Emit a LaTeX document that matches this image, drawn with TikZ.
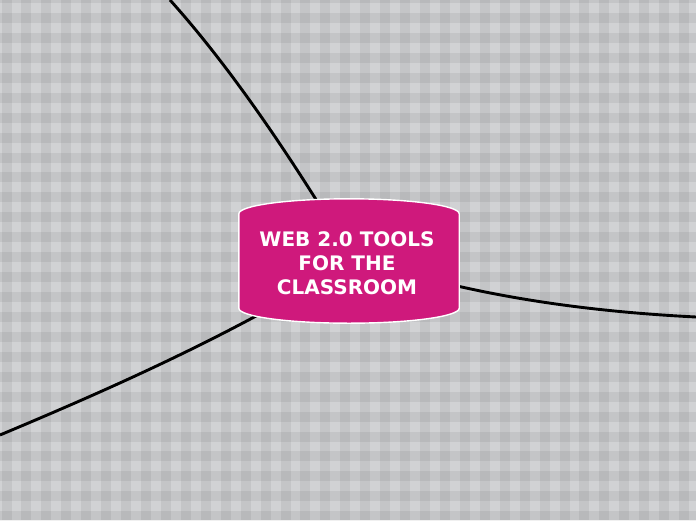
\documentclass[tikz,border=0pt]{standalone}
\usepackage{fontspec}
\usepackage{pgf}
\usetikzlibrary{math}
\newfontfamily\titlefont{DejaVu Sans}
\definecolor{bgbase}{RGB}{209,210,212}
\definecolor{rootpink}{RGB}{207,25,124}
\tikzset{
  band/.style={fill=black, fill opacity=0.06},
  branch/.style={draw=black, line width=2.9pt},
  rootbox/.style={inner sep=0pt, minimum width=220pt, minimum height=94pt},
  rootshape/.style={fill=rootpink, draw=white, line width=1.4pt},
  titletext/.style={text=white, align=center, inner sep=0pt, font=\titlefont\bfseries\fontsize{20}{24}\selectfont}
}

\begin{document}
\begin{tikzpicture}[x=1pt, y=-1pt]
      \tikzmath{\p = 19.93; \w = 10;}
      \fill[bgbase] (0,0) rectangle (696,520);
      \useasboundingbox (0,0) rectangle (696,520);
      \foreach \i in {0,...,35} \fill[band] ({1.5+\p*\i},0) rectangle +(\w,520);
      \foreach \j in {0,...,26} \fill[band] (0,{-6.9+\p*\j}) rectangle +(696,\w);
      \node[rootbox] (root) at (349,261) {};
      \coordinate (topend) at (170,0);
      \coordinate (rightend) at (696,317);
      \coordinate (leftend) at (0,435);
      \draw[branch] (root.117) .. controls (269.6,124.7) and (217.9,53.3) .. (topend);
      \draw[branch] (root.-13) .. controls (531.3,302.7) and (610,312.7) .. (rightend);
      \draw[branch] (root.211) .. controls (176,360) and (80,401.4) .. (leftend);
      \path[rootshape] (root.north west) .. controls +(0,-8.3) and +(-60.75,0) .. ([yshift=15pt]root.north)
            .. controls +(60.75,0) and +(0,-8.3) .. (root.north east) -- (root.south east)
            .. controls +(0,8.3) and +(60.75,0) .. ([yshift=-15pt]root.south)
            .. controls +(-60.75,0) and +(0,8.3) .. (root.south west) -- cycle;
      \node[titletext] (title) at (347,263.5) {WEB 2.0 TOOLS\\FOR THE\\CLASSROOM};
\end{tikzpicture}
\end{document}
